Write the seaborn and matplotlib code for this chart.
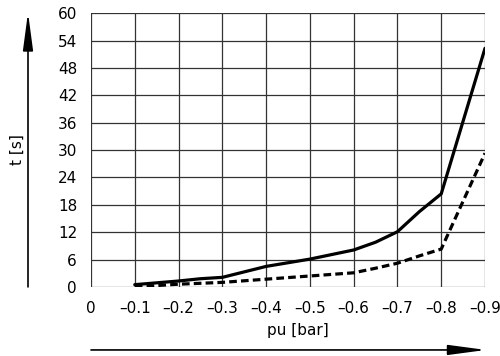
import numpy as np
import pandas as pd
import seaborn as sns
import matplotlib.pyplot as plt

# Datos
pu_solida = [-0.1, -0.2, -0.25, -0.3, -0.35, -0.4, -0.5, -0.6, -0.65, -0.7, -0.75, -0.8, -0.9]
t_solida = [0.5, 1.3, 1.8, 2.1, 3.3, 4.5, 6.1, 8.1, 9.8, 12.1, 16.5, 20.4, 52.3]

pu_discontinua = [-0.1, -0.2, -0.3, -0.4, -0.5, -0.6, -0.65, -0.7, -0.75, -0.8, -0.9]
t_discontinua = [0.0, 0.6, 1.0, 1.7, 2.4, 3.1, 4.1, 5.2, 6.8, 8.3, 29.3]

x_ticks = [0, -0.1, -0.2, -0.3, -0.4, -0.5, -0.6, -0.7, -0.8, -0.9]
x_labels = ['0', '–0.1', '–0.2', '–0.3', '–0.4', '–0.5', '–0.6', '–0.7', '–0.8', '–0.9']
y_ticks = [0, 6, 12, 18, 24, 30, 36, 42, 48, 54, 60]

sns.set_style('white')
plt.rcParams['font.family'] = ['DejaVu Sans']
plt.rcParams['font.size'] = 11
plt.rcParams['text.color'] = 'black'
plt.rcParams['xtick.color'] = 'black'
plt.rcParams['ytick.color'] = 'black'

df1 = pd.DataFrame({'pu': pu_solida, 't': t_solida})
df2 = pd.DataFrame({'pu': pu_discontinua, 't': t_discontinua})

fig = plt.figure(figsize=(5, 3.56), dpi=100)
ax = fig.add_axes([0.182, 0.194, 0.788, 0.769])

sns.lineplot(data=df1, x='pu', y='t', ax=ax, color='black', lw=2.3, sort=False)
sns.lineplot(data=df2, x='pu', y='t', ax=ax, color='black', lw=2.3, sort=False,
             linestyle=(0, (2.4, 1.3)))

ax.set_xlim(0, -0.9)
ax.set_ylim(0, 60)
ax.set_xticks(x_ticks)
ax.set_xticklabels(x_labels)
ax.set_yticks(y_ticks)
ax.grid(True, color='#333333', lw=0.9)
for s in ax.spines.values():
    s.set_visible(False)
ax.tick_params(axis='both', length=7, width=0.9, color='#333333', direction='out',
               labelsize=11, labelcolor='black', pad=3)
ax.set_xlabel('')
ax.set_ylabel('')

# Flechas de los ejes
estilo = '-|>,head_length=2.1,head_width=0.28'
ax.annotate('', xy=(0.056, 0.965), xytext=(0.056, 0.194), xycoords='figure fraction',
            textcoords='figure fraction',
            arrowprops=dict(arrowstyle=estilo, color='black', lw=1.2, shrinkA=0, shrinkB=0))
ax.annotate('', xy=(0.972, 0.017), xytext=(0.182, 0.017), xycoords='figure fraction',
            textcoords='figure fraction',
            arrowprops=dict(arrowstyle=estilo, color='black', lw=1.2, shrinkA=0, shrinkB=0))
fig.text(0.034, 0.58, 't [s]', rotation=90, ha='center', va='center', fontsize=11)
fig.text(0.596, 0.073, 'pu [bar]', ha='center', va='center', fontsize=11)

plt.savefig('out.png', dpi=100)
